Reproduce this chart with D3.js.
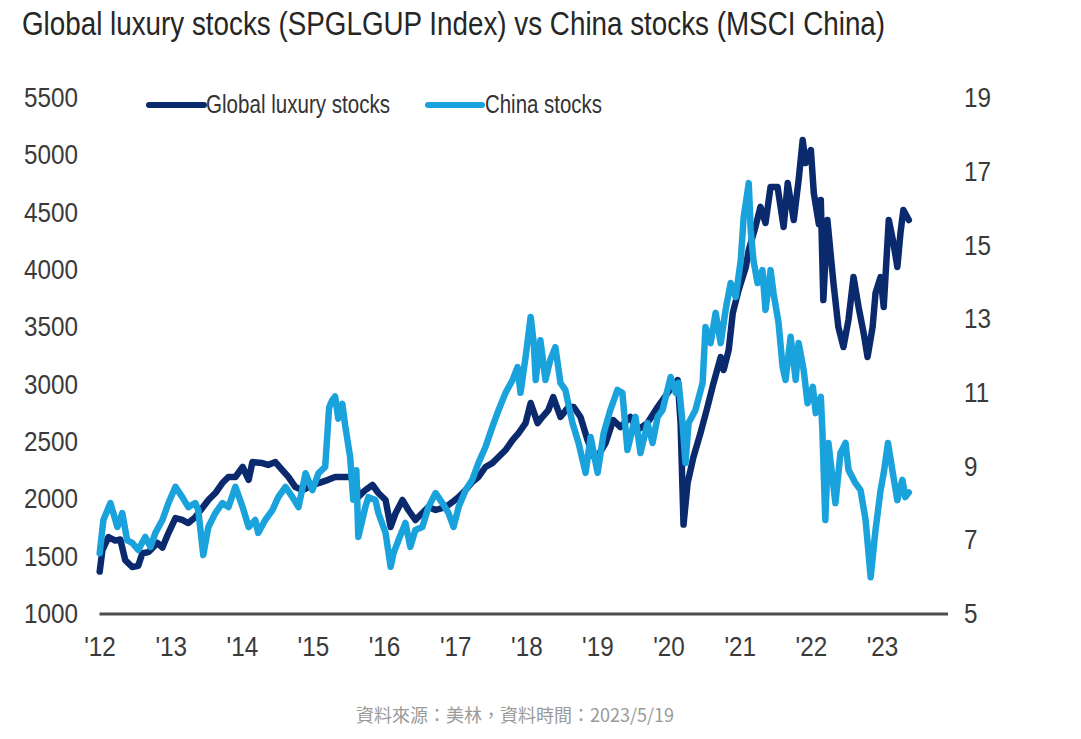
<!DOCTYPE html>
<html><head><meta charset="utf-8">
<script src="https://cdn.jsdelivr.net/npm/d3@7"></script>
<style>
html,body{margin:0;padding:0;background:#fff;}
svg{display:block;}
.lbl{font-family:"Liberation Sans",Arial,sans-serif;fill:#3a3a3a;}
</style></head>
<body><svg id="c" width="1081" height="739"></svg>
<script>
const title = "Global luxury stocks (SPGLGUP Index) vs China stocks (MSCI China)";
const source = "資料來源：美林，資料時間：2023/5/19";
const seriesNames = ["Global luxury stocks", "China stocks"];
const leftTicks = [1000,1500,2000,2500,3000,3500,4000,4500,5000,5500];
const rightTicks = [5,7,9,11,13,15,17,19];
const yearTicks = ["2012","2013","2014","2015","2016","2017","2018","2019","2020","2021","2022","2023"];

const luxDates = ["2012-01-02","2012-01-16","2012-02-16","2012-03-22","2012-04-17","2012-05-12","2012-06-17","2012-07-18","2012-08-08","2012-09-09","2012-10-24","2012-11-19","2012-12-20",
"2013-01-25","2013-03-01","2013-04-01","2013-05-07","2013-06-12","2013-07-13","2013-08-18","2013-09-23","2013-10-24","2013-11-29",
"2014-01-05","2014-02-05","2014-02-24","2014-04-16","2014-05-16","2014-06-22","2014-07-28","2014-08-28","2014-10-03","2014-11-09","2014-12-09",
"2015-01-30","2015-03-20","2015-04-25","2015-06-16","2015-08-07","2015-08-22","2015-09-27","2015-11-03","2015-12-03",
"2016-01-09","2016-02-04","2016-03-01","2016-04-05","2016-05-05","2016-06-10","2016-07-16","2016-08-16","2016-09-22","2016-11-12","2016-12-18",
"2017-01-18","2017-02-23","2017-03-29","2017-04-30","2017-06-05","2017-07-10","2017-08-11","2017-09-16","2017-10-22","2017-11-22","2017-12-28",
"2018-01-23","2018-02-28","2018-03-24","2018-04-24","2018-05-19","2018-06-25","2018-08-05","2018-09-01","2018-10-06","2018-11-11","2018-12-22",
"2019-02-12","2019-03-23","2019-04-29","2019-06-19","2019-07-25","2019-09-15","2019-11-06","2019-12-27",
"2020-02-17","2020-03-03","2020-03-18","2020-04-08","2020-05-08","2020-06-13","2020-07-19","2020-08-19","2020-09-25","2020-10-10","2020-11-05","2020-11-26","2020-12-26",
"2021-02-01","2021-02-16","2021-03-22","2021-04-17","2021-05-13","2021-06-08","2021-07-14","2021-08-14","2021-09-04","2021-10-05","2021-10-30","2021-11-20","2021-12-05",
"2022-01-01","2022-01-16","2022-02-11","2022-02-21","2022-03-06","2022-03-27","2022-04-12","2022-04-27","2022-05-22","2022-06-17","2022-07-13","2022-08-08","2022-09-03","2022-09-29","2022-10-19","2022-11-14","2022-11-29","2022-12-25",
"2023-01-10","2023-02-05","2023-03-01","2023-03-21","2023-04-06","2023-04-21","2023-05-19"];
const luxValues = [1370,1558,1671,1640,1650,1470,1410,1420,1530,1540,1620,1580,1706,
1837,1820,1793,1845,1924,1994,2055,2142,2195,2195,
2282,2170,2325,2316,2300,2325,2255,2195,2107,2080,2107,
2142,2170,2195,2195,2195,2020,2081,2125,2055,
1994,1759,1881,1994,1907,1820,1881,1933,1907,1933,1977,
2020,2081,2151,2195,2282,2316,2369,2430,2517,2578,2665,
2840,2665,2718,2779,2892,2718,2805,2805,2718,2517,2343,
2491,2692,2630,2718,2605,2665,2805,2927,
3040,2665,1780,2142,2369,2578,2805,3014,3241,3128,3302,3625,3826,
4026,4174,4375,4550,4410,4724,4724,4375,4758,4436,4784,5133,4933,
5046,4671,4400,4610,3738,4436,4148,3886,3503,3328,3564,3939,3677,3450,3241,3503,3799,3939,
3677,4436,4236,4026,4323,4523,4436];

const chinaDates = ["2012-01-02","2012-01-21","2012-02-26","2012-03-12","2012-04-02","2012-04-27","2012-05-22","2012-06-17","2012-07-18","2012-08-23","2012-09-19","2012-10-14","2012-11-19","2012-12-20",
"2013-01-25","2013-03-01","2013-04-01","2013-05-07","2013-05-22","2013-06-17","2013-07-13","2013-08-18","2013-09-23","2013-10-24","2013-11-29",
"2014-01-05","2014-02-05","2014-03-11","2014-03-26","2014-05-01","2014-06-07","2014-07-07","2014-08-13","2014-09-18","2014-10-19","2014-11-24","2014-12-29",
"2015-01-30","2015-03-05","2015-03-25","2015-04-10","2015-04-25","2015-05-11","2015-06-01","2015-06-16","2015-07-11","2015-07-27","2015-08-12","2015-08-22","2015-09-27","2015-10-13","2015-11-18","2015-12-03",
"2016-01-09","2016-02-04","2016-02-19","2016-03-15","2016-04-20","2016-05-15","2016-06-10","2016-07-16","2016-08-16","2016-09-22","2016-10-27","2016-11-27","2016-12-23",
"2017-01-18","2017-02-23","2017-03-29","2017-04-30","2017-06-05","2017-07-10","2017-08-11","2017-09-16","2017-10-22","2017-11-17","2017-12-02","2017-12-28",
"2018-01-23","2018-02-08","2018-02-18","2018-03-14","2018-04-09","2018-05-04","2018-05-30","2018-06-25","2018-07-20","2018-08-26","2018-09-26","2018-11-01","2018-11-27",
"2019-01-02","2019-02-02","2019-03-08","2019-04-14","2019-05-09","2019-06-04","2019-07-15","2019-08-10","2019-09-15","2019-10-11","2019-11-06","2019-12-01",
"2020-01-12","2020-02-07","2020-02-22","2020-03-13","2020-03-28","2020-04-13","2020-05-18","2020-06-24","2020-07-09","2020-08-04","2020-08-30","2020-09-25","2020-10-20","2020-11-15","2020-12-11",
"2021-01-06","2021-01-21","2021-02-16","2021-02-26","2021-03-12","2021-04-02","2021-04-27","2021-05-13","2021-06-08","2021-06-23","2021-07-19","2021-08-09","2021-08-24","2021-09-19","2021-10-15","2021-10-30","2021-11-25","2021-12-15",
"2022-01-11","2022-01-26","2022-02-21","2022-03-01","2022-03-16","2022-04-01","2022-05-07","2022-06-02","2022-06-28","2022-07-13","2022-08-18","2022-09-13","2022-10-09","2022-11-04","2022-11-29","2022-12-25",
"2023-01-10","2023-02-01","2023-02-26","2023-03-21","2023-04-16","2023-05-01","2023-05-19"];
const chinaValues = [6.65,7.55,8.01,7.74,7.36,7.74,7.0,6.93,6.74,7.09,6.82,7.2,7.55,8.01,
8.45,8.17,7.9,8.01,7.82,6.6,7.36,7.74,8.01,7.9,8.45,
7.9,7.36,7.55,7.2,7.55,7.82,8.17,8.45,8.17,7.9,8.82,8.36,
8.82,8.99,10.6,10.8,10.9,10.3,10.7,10.1,9.26,8.1,8.9,7.09,7.9,8.17,8.09,7.74,
7.2,6.28,6.65,7.0,7.47,6.82,7.28,7.36,7.9,8.28,8.01,7.74,7.36,
7.9,8.36,8.64,9.1,9.53,10.07,10.53,11.0,11.35,11.7,11.0,11.97,
13.06,12.35,11.35,12.43,11.35,11.9,12.24,11.27,11.08,10.18,9.64,8.83,9.8,
8.83,9.91,10.53,11.08,11.0,9.45,10.35,9.37,10.18,9.64,10.35,10.53,
11.43,11.0,11.27,10.18,9.1,10.18,10.53,11.27,12.79,12.35,13.17,12.35,13.25,13.98,13.6,
14.6,15.77,16.69,15.42,14.6,13.98,14.33,13.25,14.33,13.71,12.9,11.7,11.35,12.52,11.35,12.35,11.62,10.72,
11.16,10.45,10.89,10.0,7.55,9.64,8.01,9.37,9.64,8.91,8.55,8.36,7.55,6.0,7.28,8.36,
8.82,9.64,8.82,8.09,8.64,8.17,8.3];

const colors = ["#0b2a6e", "#1aa2dc"];
const SX = 0.82;     // horizontal compression to mimic the condensed face
const SXT = 0.9;     // compression for tick labels

const parse = d3.timeParse("%Y-%m-%d");
const lux = luxDates.map((d,i)=>({date:parse(d), v:luxValues[i]}));
const china = chinaDates.map((d,i)=>({date:parse(d), v:chinaValues[i]}));

const svg = d3.select("#c");
const x = d3.scaleTime().domain([parse("2012-01-01"), parse("2023-12-01")]).range([99.5, 947]);
const yL = d3.scaleLinear().domain([1000,5500]).range([614,98]);
const yR = d3.scaleLinear().domain([5,19]).range([614,98]);

function fitText(g, str, size, width, color){
  const t = g.append("text").attr("class","lbl").attr("transform",`scale(${SX},1)`)
    .style("font-size",size+"px").style("fill",color).text(str);
  const w = t.node().getComputedTextLength();
  t.style("font-size",(size*width/(w*SX)).toFixed(2)+"px");
  return t;
}

// title
fitText(svg.append("g").attr("transform","translate(22,35)"), title, 30, 863, "#262626");

// baseline
svg.append("line").attr("x1",x.range()[0]).attr("x2",948).attr("y1",yL(1000)).attr("y2",yL(1000))
  .attr("stroke","#4d4d4d").attr("stroke-width",3);

// axes
const axL = svg.append("g").attr("transform","translate(78,0)")
  .call(d3.axisLeft(yL).tickValues(leftTicks).tickFormat(d3.format("d")).tickSize(0).tickPadding(0));
const axR = svg.append("g").attr("transform","translate(964,0)")
  .call(d3.axisRight(yR).tickValues(rightTicks).tickFormat(d3.format("d")).tickSize(0).tickPadding(0));
const axB = svg.append("g").attr("transform","translate(0,637)")
  .call(d3.axisBottom(x).tickValues(yearTicks.map(y=>parse(y+"-01-01"))).tickFormat(d3.timeFormat("'%y")).tickSize(0).tickPadding(0));
[axL,axR,axB].forEach(a=>{
  a.select(".domain").remove();
  a.selectAll("text").attr("class","lbl").attr("transform",`scale(${SXT},1)`)
    .style("font-size","27px").style("fill","#3a3a3a");
});
axB.selectAll("text").attr("dy","0.72em");

// lines
const lineL = d3.line().x(d=>x(d.date)).y(d=>yL(d.v));
const lineR = d3.line().x(d=>x(d.date)).y(d=>yR(d.v));
svg.append("path").datum(lux).attr("d",lineL).attr("fill","none").attr("stroke",colors[0])
  .attr("stroke-width",6.5).attr("stroke-linejoin","round").attr("stroke-linecap","round");
svg.append("path").datum(china).attr("d",lineR).attr("fill","none").attr("stroke",colors[1])
  .attr("stroke-width",6.5).attr("stroke-linejoin","round").attr("stroke-linecap","round");

// legend
const leg = [{x1:149,x2:204,tx:206,w:184},{x1:428,x2:482,tx:485,w:117}];
leg.forEach((l,i)=>{
  svg.append("line").attr("x1",l.x1).attr("x2",l.x2).attr("y1",105).attr("y2",105)
    .attr("stroke",colors[i]).attr("stroke-width",6).attr("stroke-linecap","round");
  fitText(svg.append("g").attr("transform",`translate(${l.tx},113)`), seriesNames[i], 24, l.w, "#333");
});

// source
svg.append("text").attr("x",515).attr("y",722).attr("text-anchor","middle")
  .style("font-family","'Noto Sans CJK TC','Noto Sans CJK SC',sans-serif")
  .style("font-size","18px").style("fill","#9a9a9a").text(source);
</script></body></html>
